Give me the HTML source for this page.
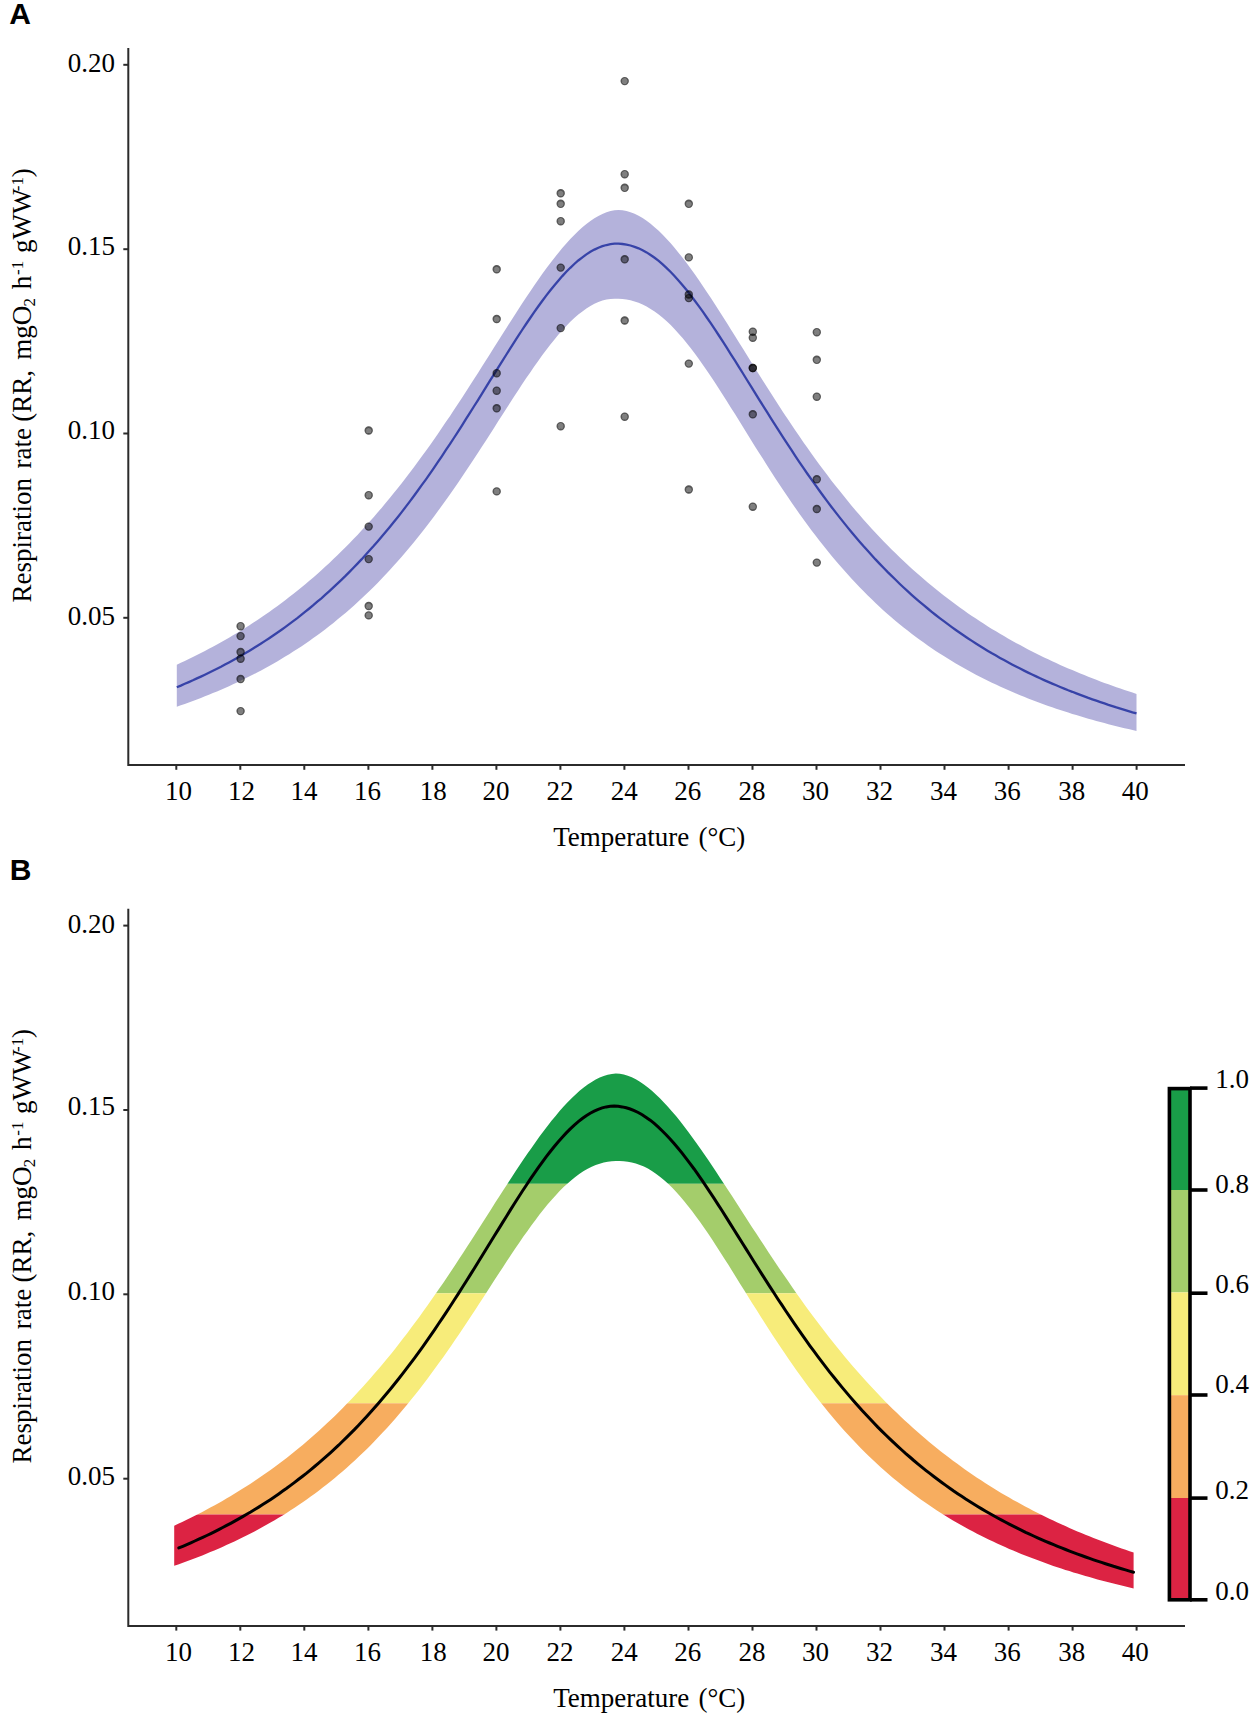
<!DOCTYPE html>
<html><head><meta charset="utf-8"><style>
html,body{margin:0;padding:0;background:#fff;width:1260px;height:1713px;overflow:hidden}
svg{display:block}
text{font-family:'Liberation Serif',serif;fill:#000}
.lbl{font-family:'Liberation Sans',sans-serif;font-weight:bold}
</style></head><body>
<svg width="1260" height="1713" viewBox="0 0 1260 1713">
<rect width="1260" height="1713" fill="#fff"/>
<text class="lbl" x="9.3" y="24.2" font-size="30">A</text>
<path d="M176.8,664.7 L180.8,662.8 L184.8,660.9 L188.8,659.0 L192.9,657.0 L196.9,655.0 L200.9,653.0 L204.9,650.9 L208.9,648.8 L212.9,646.7 L217.0,644.5 L221.0,642.3 L225.0,640.0 L229.0,637.7 L233.0,635.3 L237.0,632.9 L241.0,630.5 L245.1,628.0 L249.1,625.4 L253.1,622.8 L257.1,620.2 L261.1,617.5 L265.1,614.7 L269.2,611.9 L273.2,609.1 L277.2,606.2 L281.2,603.2 L285.2,600.2 L289.2,597.1 L293.2,594.0 L297.3,590.8 L301.3,587.5 L305.3,584.2 L309.3,580.8 L313.3,577.4 L317.3,573.9 L321.4,570.3 L325.4,566.6 L329.4,562.9 L333.4,559.1 L337.4,555.3 L341.4,551.3 L345.5,547.3 L349.5,543.2 L353.5,539.1 L357.5,534.9 L361.5,530.6 L365.5,526.2 L369.5,521.7 L373.6,517.2 L377.6,512.6 L381.6,507.9 L385.6,503.1 L389.6,498.2 L393.6,493.3 L397.7,488.3 L401.7,483.2 L405.7,478.0 L409.7,472.8 L413.7,467.4 L417.7,462.0 L421.7,456.5 L425.8,451.0 L429.8,445.4 L433.8,439.7 L437.8,433.9 L441.8,428.0 L445.8,422.1 L449.9,416.2 L453.9,410.1 L457.9,404.0 L461.9,397.9 L465.9,391.7 L469.9,385.5 L473.9,379.2 L478.0,372.9 L482.0,366.6 L486.0,360.2 L490.0,353.9 L494.0,347.5 L498.0,341.2 L502.1,334.8 L506.1,328.5 L510.1,322.2 L514.1,315.9 L518.1,309.7 L522.1,303.5 L526.1,297.5 L530.2,291.5 L534.2,285.5 L538.2,279.8 L542.2,274.1 L546.2,268.5 L550.2,263.2 L554.3,257.9 L558.3,252.9 L562.3,248.1 L566.3,243.4 L570.3,239.0 L574.3,234.9 L578.3,231.0 L582.4,227.3 L586.4,224.0 L590.4,220.9 L594.4,218.2 L598.4,215.9 L602.4,213.9 L606.5,212.2 L610.5,211.0 L614.5,210.2 L618.5,210.0 L622.5,210.3 L626.5,211.0 L630.5,212.2 L634.6,213.8 L638.6,215.8 L642.6,218.1 L646.6,220.8 L650.6,223.8 L654.6,227.2 L658.7,230.8 L662.7,234.7 L666.7,238.9 L670.7,243.3 L674.7,248.0 L678.7,252.9 L682.8,258.0 L686.8,263.3 L690.8,268.7 L694.8,274.3 L698.8,280.1 L702.8,285.9 L706.8,291.9 L710.9,298.0 L714.9,304.2 L718.9,310.4 L722.9,316.8 L726.9,323.1 L730.9,329.5 L735.0,335.9 L739.0,342.4 L743.0,348.8 L747.0,355.3 L751.0,361.7 L755.0,368.2 L759.0,374.6 L763.1,380.9 L767.1,387.3 L771.1,393.6 L775.1,399.8 L779.1,406.0 L783.1,412.2 L787.2,418.2 L791.2,424.3 L795.2,430.2 L799.2,436.1 L803.2,441.9 L807.2,447.6 L811.2,453.3 L815.3,458.9 L819.3,464.4 L823.3,469.8 L827.3,475.1 L831.3,480.4 L835.3,485.5 L839.4,490.6 L843.4,495.6 L847.4,500.6 L851.4,505.4 L855.4,510.2 L859.4,514.8 L863.4,519.4 L867.5,523.9 L871.5,528.4 L875.5,532.7 L879.5,537.0 L883.5,541.2 L887.5,545.3 L891.6,549.4 L895.6,553.3 L899.6,557.2 L903.6,561.0 L907.6,564.8 L911.6,568.5 L915.6,572.1 L919.7,575.6 L923.7,579.1 L927.7,582.5 L931.7,585.8 L935.7,589.1 L939.7,592.3 L943.8,595.5 L947.8,598.6 L951.8,601.6 L955.8,604.6 L959.8,607.5 L963.8,610.3 L967.8,613.2 L971.9,615.9 L975.9,618.6 L979.9,621.2 L983.9,623.8 L987.9,626.4 L991.9,628.9 L996.0,631.3 L1000.0,633.8 L1004.0,636.1 L1008.0,638.4 L1012.0,640.7 L1016.0,642.9 L1020.1,645.1 L1024.1,647.3 L1028.1,649.4 L1032.1,651.4 L1036.1,653.5 L1040.1,655.5 L1044.1,657.4 L1048.2,659.3 L1052.2,661.2 L1056.2,663.1 L1060.2,664.9 L1064.2,666.7 L1068.2,668.4 L1072.3,670.1 L1076.3,671.8 L1080.3,673.5 L1084.3,675.1 L1088.3,676.7 L1092.3,678.3 L1096.3,679.8 L1100.4,681.4 L1104.4,682.9 L1108.4,684.3 L1112.4,685.8 L1116.4,687.2 L1120.4,688.6 L1124.5,689.9 L1128.5,691.3 L1132.5,692.6 L1136.5,693.9 L1136.5,731.0 L1132.5,730.1 L1128.5,729.1 L1124.5,728.2 L1120.4,727.2 L1116.4,726.2 L1112.4,725.2 L1108.4,724.2 L1104.4,723.1 L1100.4,722.0 L1096.3,720.9 L1092.3,719.8 L1088.3,718.7 L1084.3,717.5 L1080.3,716.3 L1076.3,715.1 L1072.3,713.9 L1068.2,712.6 L1064.2,711.3 L1060.2,710.0 L1056.2,708.7 L1052.2,707.3 L1048.2,705.9 L1044.1,704.5 L1040.1,703.0 L1036.1,701.5 L1032.1,700.0 L1028.1,698.4 L1024.1,696.8 L1020.1,695.2 L1016.0,693.5 L1012.0,691.8 L1008.0,690.1 L1004.0,688.3 L1000.0,686.5 L996.0,684.6 L991.9,682.7 L987.9,680.8 L983.9,678.8 L979.9,676.7 L975.9,674.7 L971.9,672.5 L967.8,670.3 L963.8,668.1 L959.8,665.8 L955.8,663.5 L951.8,661.1 L947.8,658.6 L943.8,656.1 L939.7,653.5 L935.7,650.9 L931.7,648.2 L927.7,645.5 L923.7,642.6 L919.7,639.7 L915.6,636.8 L911.6,633.7 L907.6,630.6 L903.6,627.5 L899.6,624.2 L895.6,620.9 L891.6,617.4 L887.5,614.0 L883.5,610.4 L879.5,606.7 L875.5,602.9 L871.5,599.1 L867.5,595.2 L863.4,591.1 L859.4,587.0 L855.4,582.8 L851.4,578.5 L847.4,574.1 L843.4,569.6 L839.4,565.0 L835.3,560.3 L831.3,555.5 L827.3,550.6 L823.3,545.6 L819.3,540.5 L815.3,535.2 L811.2,529.9 L807.2,524.5 L803.2,519.0 L799.2,513.4 L795.2,507.7 L791.2,501.9 L787.2,496.0 L783.1,490.1 L779.1,484.0 L775.1,477.9 L771.1,471.7 L767.1,465.4 L763.1,459.1 L759.0,452.8 L755.0,446.4 L751.0,439.9 L747.0,433.5 L743.0,427.0 L739.0,420.5 L735.0,414.1 L730.9,407.7 L726.9,401.3 L722.9,395.0 L718.9,388.7 L714.9,382.5 L710.9,376.5 L706.8,370.5 L702.8,364.7 L698.8,359.0 L694.8,353.6 L690.8,348.3 L686.8,343.2 L682.8,338.3 L678.7,333.7 L674.7,329.3 L670.7,325.1 L666.7,321.3 L662.7,317.7 L658.7,314.5 L654.6,311.5 L650.6,308.9 L646.6,306.5 L642.6,304.5 L638.6,302.8 L634.6,301.4 L630.5,300.3 L626.5,299.5 L622.5,299.0 L618.5,298.7 L614.5,298.7 L610.5,298.9 L606.5,299.5 L602.4,300.6 L598.4,302.0 L594.4,303.8 L590.4,306.0 L586.4,308.5 L582.4,311.4 L578.3,314.5 L574.3,318.0 L570.3,321.8 L566.3,325.9 L562.3,330.3 L558.3,334.8 L554.3,339.7 L550.2,344.7 L546.2,349.9 L542.2,355.3 L538.2,360.9 L534.2,366.6 L530.2,372.4 L526.1,378.3 L522.1,384.3 L518.1,390.4 L514.1,396.6 L510.1,402.8 L506.1,409.1 L502.1,415.3 L498.0,421.6 L494.0,427.9 L490.0,434.2 L486.0,440.4 L482.0,446.6 L478.0,452.8 L473.9,459.0 L469.9,465.0 L465.9,471.1 L461.9,477.0 L457.9,482.9 L453.9,488.8 L449.9,494.5 L445.8,500.2 L441.8,505.8 L437.8,511.3 L433.8,516.7 L429.8,522.0 L425.8,527.3 L421.7,532.4 L417.7,537.4 L413.7,542.4 L409.7,547.3 L405.7,552.0 L401.7,556.7 L397.7,561.3 L393.6,565.8 L389.6,570.2 L385.6,574.5 L381.6,578.7 L377.6,582.9 L373.6,586.9 L369.5,590.9 L365.5,594.8 L361.5,598.6 L357.5,602.3 L353.5,605.9 L349.5,609.4 L345.5,612.9 L341.4,616.3 L337.4,619.6 L333.4,622.9 L329.4,626.1 L325.4,629.2 L321.4,632.2 L317.3,635.2 L313.3,638.1 L309.3,640.9 L305.3,643.7 L301.3,646.4 L297.3,649.0 L293.2,651.6 L289.2,654.2 L285.2,656.6 L281.2,659.1 L277.2,661.4 L273.2,663.8 L269.2,666.0 L265.1,668.2 L261.1,670.4 L257.1,672.5 L253.1,674.6 L249.1,676.6 L245.1,678.6 L241.0,680.6 L237.0,682.5 L233.0,684.3 L229.0,686.2 L225.0,688.0 L221.0,689.7 L217.0,691.4 L212.9,693.1 L208.9,694.7 L204.9,696.3 L200.9,697.9 L196.9,699.4 L192.9,701.0 L188.8,702.4 L184.8,703.9 L180.8,705.3 L176.8,706.7 Z" fill="#b4b2db"/>
<path d="M176.8,687.2 L180.8,685.6 L184.8,683.8 L188.8,682.1 L192.9,680.3 L196.9,678.4 L200.9,676.6 L204.9,674.7 L208.9,672.7 L212.9,670.7 L217.0,668.7 L221.0,666.7 L225.0,664.5 L229.0,662.4 L233.0,660.2 L237.0,658.0 L241.0,655.7 L245.1,653.3 L249.1,650.9 L253.1,648.5 L257.1,646.0 L261.1,643.5 L265.1,640.9 L269.2,638.2 L273.2,635.5 L277.2,632.8 L281.2,630.0 L285.2,627.1 L289.2,624.1 L293.2,621.1 L297.3,618.1 L301.3,614.9 L305.3,611.7 L309.3,608.5 L313.3,605.2 L317.3,601.7 L321.4,598.3 L325.4,594.7 L329.4,591.1 L333.4,587.4 L337.4,583.6 L341.4,579.8 L345.5,575.9 L349.5,571.9 L353.5,567.8 L357.5,563.6 L361.5,559.4 L365.5,555.0 L369.5,550.6 L373.6,546.1 L377.6,541.5 L381.6,536.8 L385.6,532.0 L389.6,527.2 L393.6,522.2 L397.7,517.2 L401.7,512.1 L405.7,506.9 L409.7,501.6 L413.7,496.2 L417.7,490.8 L421.7,485.2 L425.8,479.6 L429.8,473.9 L433.8,468.1 L437.8,462.2 L441.8,456.3 L445.8,450.2 L449.9,444.2 L453.9,438.0 L457.9,431.8 L461.9,425.6 L465.9,419.2 L469.9,412.9 L473.9,406.5 L478.0,400.1 L482.0,393.7 L486.0,387.2 L490.0,380.7 L494.0,374.3 L498.0,367.8 L502.1,361.4 L506.1,355.0 L510.1,348.7 L514.1,342.4 L518.1,336.2 L522.1,330.0 L526.1,324.0 L530.2,318.0 L534.2,312.2 L538.2,306.5 L542.2,301.0 L546.2,295.6 L550.2,290.5 L554.3,285.5 L558.3,280.7 L562.3,276.1 L566.3,271.8 L570.3,267.8 L574.3,264.0 L578.3,260.5 L582.4,257.3 L586.4,254.4 L590.4,251.8 L594.4,249.6 L598.4,247.7 L602.4,246.1 L606.5,245.0 L610.5,244.2 L614.5,243.7 L618.5,243.7 L622.5,244.0 L626.5,244.6 L630.5,245.5 L634.6,246.8 L638.6,248.3 L642.6,250.2 L646.6,252.4 L650.6,255.0 L654.6,257.8 L658.7,260.9 L662.7,264.4 L666.7,268.1 L670.7,272.0 L674.7,276.2 L678.7,280.7 L682.8,285.4 L686.8,290.3 L690.8,295.4 L694.8,300.7 L698.8,306.1 L702.8,311.7 L706.8,317.5 L710.9,323.4 L714.9,329.4 L718.9,335.5 L722.9,341.7 L726.9,347.9 L730.9,354.3 L735.0,360.7 L739.0,367.1 L743.0,373.5 L747.0,380.0 L751.0,386.4 L755.0,392.9 L759.0,399.4 L763.1,405.8 L767.1,412.2 L771.1,418.6 L775.1,424.9 L779.1,431.2 L783.1,437.4 L787.2,443.6 L791.2,449.7 L795.2,455.8 L799.2,461.8 L803.2,467.7 L807.2,473.5 L811.2,479.2 L815.3,484.9 L819.3,490.5 L823.3,496.0 L827.3,501.4 L831.3,506.7 L835.3,511.9 L839.4,517.1 L843.4,522.1 L847.4,527.1 L851.4,532.0 L855.4,536.8 L859.4,541.4 L863.4,546.1 L867.5,550.6 L871.5,555.0 L875.5,559.4 L879.5,563.6 L883.5,567.8 L887.5,571.9 L891.6,575.9 L895.6,579.8 L899.6,583.7 L903.6,587.5 L907.6,591.2 L911.6,594.8 L915.6,598.3 L919.7,601.8 L923.7,605.2 L927.7,608.5 L931.7,611.8 L935.7,615.0 L939.7,618.1 L943.8,621.2 L947.8,624.2 L951.8,627.1 L955.8,630.0 L959.8,632.8 L963.8,635.5 L967.8,638.2 L971.9,640.9 L975.9,643.5 L979.9,646.0 L983.9,648.5 L987.9,650.9 L991.9,653.3 L996.0,655.6 L1000.0,657.9 L1004.0,660.1 L1008.0,662.3 L1012.0,664.4 L1016.0,666.5 L1020.1,668.6 L1024.1,670.6 L1028.1,672.6 L1032.1,674.5 L1036.1,676.4 L1040.1,678.3 L1044.1,680.1 L1048.2,681.9 L1052.2,683.6 L1056.2,685.3 L1060.2,687.0 L1064.2,688.6 L1068.2,690.3 L1072.3,691.8 L1076.3,693.4 L1080.3,694.9 L1084.3,696.4 L1088.3,697.9 L1092.3,699.3 L1096.3,700.7 L1100.4,702.1 L1104.4,703.4 L1108.4,704.8 L1112.4,706.1 L1116.4,707.4 L1120.4,708.6 L1124.5,709.9 L1128.5,711.1 L1132.5,712.3 L1136.5,713.4" fill="none" stroke="#3743a8" stroke-width="2.3"/>
<circle cx="240.6" cy="626.2" r="2.7" fill="rgba(0,0,0,0.5)"/><circle cx="240.6" cy="626.2" r="3.4" fill="none" stroke="rgba(0,0,0,0.66)" stroke-width="1.6"/>
<circle cx="240.6" cy="636.1" r="2.7" fill="rgba(0,0,0,0.5)"/><circle cx="240.6" cy="636.1" r="3.4" fill="none" stroke="rgba(0,0,0,0.66)" stroke-width="1.6"/>
<circle cx="240.6" cy="652.0" r="2.7" fill="rgba(0,0,0,0.5)"/><circle cx="240.6" cy="652.0" r="3.4" fill="none" stroke="rgba(0,0,0,0.66)" stroke-width="1.6"/>
<circle cx="240.6" cy="658.7" r="2.7" fill="rgba(0,0,0,0.5)"/><circle cx="240.6" cy="658.7" r="3.4" fill="none" stroke="rgba(0,0,0,0.66)" stroke-width="1.6"/>
<circle cx="240.6" cy="679.0" r="2.7" fill="rgba(0,0,0,0.5)"/><circle cx="240.6" cy="679.0" r="3.4" fill="none" stroke="rgba(0,0,0,0.66)" stroke-width="1.6"/>
<circle cx="240.6" cy="711.1" r="2.7" fill="rgba(0,0,0,0.5)"/><circle cx="240.6" cy="711.1" r="3.4" fill="none" stroke="rgba(0,0,0,0.66)" stroke-width="1.6"/>
<circle cx="368.7" cy="430.5" r="2.7" fill="rgba(0,0,0,0.5)"/><circle cx="368.7" cy="430.5" r="3.4" fill="none" stroke="rgba(0,0,0,0.66)" stroke-width="1.6"/>
<circle cx="368.7" cy="495.2" r="2.7" fill="rgba(0,0,0,0.5)"/><circle cx="368.7" cy="495.2" r="3.4" fill="none" stroke="rgba(0,0,0,0.66)" stroke-width="1.6"/>
<circle cx="368.7" cy="526.6" r="2.7" fill="rgba(0,0,0,0.5)"/><circle cx="368.7" cy="526.6" r="3.4" fill="none" stroke="rgba(0,0,0,0.66)" stroke-width="1.6"/>
<circle cx="368.7" cy="559.1" r="2.7" fill="rgba(0,0,0,0.5)"/><circle cx="368.7" cy="559.1" r="3.4" fill="none" stroke="rgba(0,0,0,0.66)" stroke-width="1.6"/>
<circle cx="368.7" cy="606.0" r="2.7" fill="rgba(0,0,0,0.5)"/><circle cx="368.7" cy="606.0" r="3.4" fill="none" stroke="rgba(0,0,0,0.66)" stroke-width="1.6"/>
<circle cx="368.7" cy="615.4" r="2.7" fill="rgba(0,0,0,0.5)"/><circle cx="368.7" cy="615.4" r="3.4" fill="none" stroke="rgba(0,0,0,0.66)" stroke-width="1.6"/>
<circle cx="496.7" cy="269.3" r="2.7" fill="rgba(0,0,0,0.5)"/><circle cx="496.7" cy="269.3" r="3.4" fill="none" stroke="rgba(0,0,0,0.66)" stroke-width="1.6"/>
<circle cx="496.7" cy="319.0" r="2.7" fill="rgba(0,0,0,0.5)"/><circle cx="496.7" cy="319.0" r="3.4" fill="none" stroke="rgba(0,0,0,0.66)" stroke-width="1.6"/>
<circle cx="496.7" cy="373.2" r="2.7" fill="rgba(0,0,0,0.5)"/><circle cx="496.7" cy="373.2" r="3.4" fill="none" stroke="rgba(0,0,0,0.66)" stroke-width="1.6"/>
<circle cx="496.7" cy="390.7" r="2.7" fill="rgba(0,0,0,0.5)"/><circle cx="496.7" cy="390.7" r="3.4" fill="none" stroke="rgba(0,0,0,0.66)" stroke-width="1.6"/>
<circle cx="496.7" cy="408.3" r="2.7" fill="rgba(0,0,0,0.5)"/><circle cx="496.7" cy="408.3" r="3.4" fill="none" stroke="rgba(0,0,0,0.66)" stroke-width="1.6"/>
<circle cx="496.7" cy="491.4" r="2.7" fill="rgba(0,0,0,0.5)"/><circle cx="496.7" cy="491.4" r="3.4" fill="none" stroke="rgba(0,0,0,0.66)" stroke-width="1.6"/>
<circle cx="560.7" cy="193.3" r="2.7" fill="rgba(0,0,0,0.5)"/><circle cx="560.7" cy="193.3" r="3.4" fill="none" stroke="rgba(0,0,0,0.66)" stroke-width="1.6"/>
<circle cx="560.7" cy="203.8" r="2.7" fill="rgba(0,0,0,0.5)"/><circle cx="560.7" cy="203.8" r="3.4" fill="none" stroke="rgba(0,0,0,0.66)" stroke-width="1.6"/>
<circle cx="560.7" cy="221.2" r="2.7" fill="rgba(0,0,0,0.5)"/><circle cx="560.7" cy="221.2" r="3.4" fill="none" stroke="rgba(0,0,0,0.66)" stroke-width="1.6"/>
<circle cx="560.7" cy="267.6" r="2.7" fill="rgba(0,0,0,0.5)"/><circle cx="560.7" cy="267.6" r="3.4" fill="none" stroke="rgba(0,0,0,0.66)" stroke-width="1.6"/>
<circle cx="560.7" cy="328.1" r="2.7" fill="rgba(0,0,0,0.5)"/><circle cx="560.7" cy="328.1" r="3.4" fill="none" stroke="rgba(0,0,0,0.66)" stroke-width="1.6"/>
<circle cx="560.7" cy="426.2" r="2.7" fill="rgba(0,0,0,0.5)"/><circle cx="560.7" cy="426.2" r="3.4" fill="none" stroke="rgba(0,0,0,0.66)" stroke-width="1.6"/>
<circle cx="624.7" cy="81.1" r="2.7" fill="rgba(0,0,0,0.5)"/><circle cx="624.7" cy="81.1" r="3.4" fill="none" stroke="rgba(0,0,0,0.66)" stroke-width="1.6"/>
<circle cx="624.7" cy="174.2" r="2.7" fill="rgba(0,0,0,0.5)"/><circle cx="624.7" cy="174.2" r="3.4" fill="none" stroke="rgba(0,0,0,0.66)" stroke-width="1.6"/>
<circle cx="624.7" cy="187.8" r="2.7" fill="rgba(0,0,0,0.5)"/><circle cx="624.7" cy="187.8" r="3.4" fill="none" stroke="rgba(0,0,0,0.66)" stroke-width="1.6"/>
<circle cx="624.7" cy="259.3" r="2.7" fill="rgba(0,0,0,0.5)"/><circle cx="624.7" cy="259.3" r="3.4" fill="none" stroke="rgba(0,0,0,0.66)" stroke-width="1.6"/>
<circle cx="624.7" cy="320.5" r="2.7" fill="rgba(0,0,0,0.5)"/><circle cx="624.7" cy="320.5" r="3.4" fill="none" stroke="rgba(0,0,0,0.66)" stroke-width="1.6"/>
<circle cx="624.7" cy="416.7" r="2.7" fill="rgba(0,0,0,0.5)"/><circle cx="624.7" cy="416.7" r="3.4" fill="none" stroke="rgba(0,0,0,0.66)" stroke-width="1.6"/>
<circle cx="688.8" cy="203.8" r="2.7" fill="rgba(0,0,0,0.5)"/><circle cx="688.8" cy="203.8" r="3.4" fill="none" stroke="rgba(0,0,0,0.66)" stroke-width="1.6"/>
<circle cx="688.8" cy="257.4" r="2.7" fill="rgba(0,0,0,0.5)"/><circle cx="688.8" cy="257.4" r="3.4" fill="none" stroke="rgba(0,0,0,0.66)" stroke-width="1.6"/>
<circle cx="688.8" cy="294.5" r="2.7" fill="rgba(0,0,0,0.5)"/><circle cx="688.8" cy="294.5" r="3.4" fill="none" stroke="rgba(0,0,0,0.66)" stroke-width="1.6"/>
<circle cx="688.8" cy="298.1" r="2.7" fill="rgba(0,0,0,0.5)"/><circle cx="688.8" cy="298.1" r="3.4" fill="none" stroke="rgba(0,0,0,0.66)" stroke-width="1.6"/>
<circle cx="688.8" cy="363.6" r="2.7" fill="rgba(0,0,0,0.5)"/><circle cx="688.8" cy="363.6" r="3.4" fill="none" stroke="rgba(0,0,0,0.66)" stroke-width="1.6"/>
<circle cx="688.8" cy="489.5" r="2.7" fill="rgba(0,0,0,0.5)"/><circle cx="688.8" cy="489.5" r="3.4" fill="none" stroke="rgba(0,0,0,0.66)" stroke-width="1.6"/>
<circle cx="752.8" cy="331.7" r="2.7" fill="rgba(0,0,0,0.5)"/><circle cx="752.8" cy="331.7" r="3.4" fill="none" stroke="rgba(0,0,0,0.66)" stroke-width="1.6"/>
<circle cx="752.8" cy="337.7" r="2.7" fill="rgba(0,0,0,0.5)"/><circle cx="752.8" cy="337.7" r="3.4" fill="none" stroke="rgba(0,0,0,0.66)" stroke-width="1.6"/>
<circle cx="752.8" cy="368.0" r="2.7" fill="rgba(0,0,0,0.5)"/><circle cx="752.8" cy="368.0" r="3.4" fill="none" stroke="rgba(0,0,0,0.66)" stroke-width="1.6"/>
<circle cx="752.8" cy="368.0" r="2.7" fill="rgba(0,0,0,0.5)"/><circle cx="752.8" cy="368.0" r="3.4" fill="none" stroke="rgba(0,0,0,0.66)" stroke-width="1.6"/>
<circle cx="752.8" cy="414.3" r="2.7" fill="rgba(0,0,0,0.5)"/><circle cx="752.8" cy="414.3" r="3.4" fill="none" stroke="rgba(0,0,0,0.66)" stroke-width="1.6"/>
<circle cx="752.8" cy="506.7" r="2.7" fill="rgba(0,0,0,0.5)"/><circle cx="752.8" cy="506.7" r="3.4" fill="none" stroke="rgba(0,0,0,0.66)" stroke-width="1.6"/>
<circle cx="816.8" cy="332.2" r="2.7" fill="rgba(0,0,0,0.5)"/><circle cx="816.8" cy="332.2" r="3.4" fill="none" stroke="rgba(0,0,0,0.66)" stroke-width="1.6"/>
<circle cx="816.8" cy="359.8" r="2.7" fill="rgba(0,0,0,0.5)"/><circle cx="816.8" cy="359.8" r="3.4" fill="none" stroke="rgba(0,0,0,0.66)" stroke-width="1.6"/>
<circle cx="816.8" cy="396.7" r="2.7" fill="rgba(0,0,0,0.5)"/><circle cx="816.8" cy="396.7" r="3.4" fill="none" stroke="rgba(0,0,0,0.66)" stroke-width="1.6"/>
<circle cx="816.8" cy="479.3" r="2.7" fill="rgba(0,0,0,0.5)"/><circle cx="816.8" cy="479.3" r="3.4" fill="none" stroke="rgba(0,0,0,0.66)" stroke-width="1.6"/>
<circle cx="816.8" cy="509.0" r="2.7" fill="rgba(0,0,0,0.5)"/><circle cx="816.8" cy="509.0" r="3.4" fill="none" stroke="rgba(0,0,0,0.66)" stroke-width="1.6"/>
<circle cx="816.8" cy="562.6" r="2.7" fill="rgba(0,0,0,0.5)"/><circle cx="816.8" cy="562.6" r="3.4" fill="none" stroke="rgba(0,0,0,0.66)" stroke-width="1.6"/>
<path d="M128.3,48.0 V765.1 H1185" fill="none" stroke="#2b2b2b" stroke-width="2"/>
<line x1="123.3" y1="64.8" x2="128.3" y2="64.8" stroke="#2b2b2b" stroke-width="2"/>
<line x1="123.3" y1="249.2" x2="128.3" y2="249.2" stroke="#2b2b2b" stroke-width="2"/>
<line x1="123.3" y1="433.5" x2="128.3" y2="433.5" stroke="#2b2b2b" stroke-width="2"/>
<line x1="123.3" y1="617.8" x2="128.3" y2="617.8" stroke="#2b2b2b" stroke-width="2"/>
<line x1="176.3" y1="765.1" x2="176.3" y2="769.8" stroke="#2b2b2b" stroke-width="2"/>
<line x1="240.3" y1="765.1" x2="240.3" y2="769.8" stroke="#2b2b2b" stroke-width="2"/>
<line x1="304.3" y1="765.1" x2="304.3" y2="769.8" stroke="#2b2b2b" stroke-width="2"/>
<line x1="368.4" y1="765.1" x2="368.4" y2="769.8" stroke="#2b2b2b" stroke-width="2"/>
<line x1="432.4" y1="765.1" x2="432.4" y2="769.8" stroke="#2b2b2b" stroke-width="2"/>
<line x1="496.4" y1="765.1" x2="496.4" y2="769.8" stroke="#2b2b2b" stroke-width="2"/>
<line x1="560.4" y1="765.1" x2="560.4" y2="769.8" stroke="#2b2b2b" stroke-width="2"/>
<line x1="624.4" y1="765.1" x2="624.4" y2="769.8" stroke="#2b2b2b" stroke-width="2"/>
<line x1="688.5" y1="765.1" x2="688.5" y2="769.8" stroke="#2b2b2b" stroke-width="2"/>
<line x1="752.5" y1="765.1" x2="752.5" y2="769.8" stroke="#2b2b2b" stroke-width="2"/>
<line x1="816.5" y1="765.1" x2="816.5" y2="769.8" stroke="#2b2b2b" stroke-width="2"/>
<line x1="880.5" y1="765.1" x2="880.5" y2="769.8" stroke="#2b2b2b" stroke-width="2"/>
<line x1="944.5" y1="765.1" x2="944.5" y2="769.8" stroke="#2b2b2b" stroke-width="2"/>
<line x1="1008.6" y1="765.1" x2="1008.6" y2="769.8" stroke="#2b2b2b" stroke-width="2"/>
<line x1="1072.6" y1="765.1" x2="1072.6" y2="769.8" stroke="#2b2b2b" stroke-width="2"/>
<line x1="1136.6" y1="765.1" x2="1136.6" y2="769.8" stroke="#2b2b2b" stroke-width="2"/>
<text x="115" y="72.2" font-size="27" text-anchor="end">0.20</text>
<text x="115" y="254.9" font-size="27" text-anchor="end">0.15</text>
<text x="115" y="439.2" font-size="27" text-anchor="end">0.10</text>
<text x="115" y="624.9" font-size="27" text-anchor="end">0.05</text>
<text x="178.4" y="800.3" font-size="27" text-anchor="middle">10</text>
<text x="241.4" y="800.3" font-size="27" text-anchor="middle">12</text>
<text x="304.1" y="800.3" font-size="27" text-anchor="middle">14</text>
<text x="367.4" y="800.3" font-size="27" text-anchor="middle">16</text>
<text x="433.2" y="800.3" font-size="27" text-anchor="middle">18</text>
<text x="496.1" y="800.3" font-size="27" text-anchor="middle">20</text>
<text x="560.1" y="800.3" font-size="27" text-anchor="middle">22</text>
<text x="624.3" y="800.3" font-size="27" text-anchor="middle">24</text>
<text x="687.8" y="800.3" font-size="27" text-anchor="middle">26</text>
<text x="752.1" y="800.3" font-size="27" text-anchor="middle">28</text>
<text x="815.6" y="800.3" font-size="27" text-anchor="middle">30</text>
<text x="879.6" y="800.3" font-size="27" text-anchor="middle">32</text>
<text x="943.5" y="800.3" font-size="27" text-anchor="middle">34</text>
<text x="1007.2" y="800.3" font-size="27" text-anchor="middle">36</text>
<text x="1071.7" y="800.3" font-size="27" text-anchor="middle">38</text>
<text x="1135.3" y="800.3" font-size="27" text-anchor="middle">40</text>
<text x="553.2" y="846.4" font-size="27">Temperature</text>
<text x="698.5" y="846.4" font-size="27">(°C)</text>
<text transform="translate(30.6,602.6) rotate(-90)" font-size="27">Respiration</text>
<text transform="translate(30.6,468.4) rotate(-90)" font-size="27">rate</text>
<text transform="translate(30.6,421.7) rotate(-90)" font-size="27">(RR,</text>
<text transform="translate(30.6,359.7) rotate(-90)" font-size="27">mgO</text>
<text transform="translate(35.4,306.4) rotate(-90)" font-size="17">2</text>
<text transform="translate(30.6,289.2) rotate(-90)" font-size="27">h</text>
<text transform="translate(22.8,274.9) rotate(-90)" font-size="17">-1</text>
<text transform="translate(30.6,253.1) rotate(-90)" font-size="27">gWW</text>
<text transform="translate(22.8,191.2) rotate(-90)" font-size="17">-1</text>
<text transform="translate(30.6,177.2) rotate(-90)" font-size="27">)</text>
<text class="lbl" x="9.8" y="880.4" font-size="30">B</text>
<defs><clipPath id="bandB"><path d="M174.2,1525.7 L178.2,1523.8 L182.2,1521.9 L186.2,1520.0 L190.3,1518.0 L194.3,1516.0 L198.3,1514.0 L202.3,1511.9 L206.3,1509.8 L210.3,1507.6 L214.3,1505.4 L218.4,1503.2 L222.4,1500.9 L226.4,1498.6 L230.4,1496.2 L234.4,1493.8 L238.4,1491.3 L242.4,1488.8 L246.5,1486.3 L250.5,1483.7 L254.5,1481.0 L258.5,1478.3 L262.5,1475.6 L266.5,1472.7 L270.5,1469.9 L274.6,1467.0 L278.6,1464.0 L282.6,1461.0 L286.6,1457.9 L290.6,1454.7 L294.6,1451.5 L298.6,1448.2 L302.7,1444.9 L306.7,1441.5 L310.7,1438.1 L314.7,1434.5 L318.7,1430.9 L322.7,1427.3 L326.7,1423.5 L330.8,1419.7 L334.8,1415.9 L338.8,1411.9 L342.8,1407.9 L346.8,1403.8 L350.8,1399.7 L354.8,1395.4 L358.9,1391.1 L362.9,1386.7 L366.9,1382.3 L370.9,1377.7 L374.9,1373.1 L378.9,1368.4 L382.9,1363.7 L387.0,1358.8 L391.0,1353.9 L395.0,1348.9 L399.0,1343.8 L403.0,1338.6 L407.0,1333.4 L411.0,1328.0 L415.1,1322.6 L419.1,1317.2 L423.1,1311.6 L427.1,1306.0 L431.1,1300.3 L435.1,1294.6 L439.1,1288.8 L443.2,1282.9 L447.2,1276.9 L451.2,1271.0 L455.2,1264.9 L459.2,1258.8 L463.2,1252.7 L467.2,1246.5 L471.3,1240.3 L475.3,1234.0 L479.3,1227.8 L483.3,1221.5 L487.3,1215.2 L491.3,1208.9 L495.3,1202.6 L499.4,1196.3 L503.4,1190.1 L507.4,1183.9 L511.4,1177.7 L515.4,1171.6 L519.4,1165.5 L523.4,1159.5 L527.5,1153.6 L531.5,1147.9 L535.5,1142.2 L539.5,1136.6 L543.5,1131.2 L547.5,1125.9 L551.5,1120.8 L555.6,1115.9 L559.6,1111.1 L563.6,1106.6 L567.6,1102.3 L571.6,1098.2 L575.6,1094.4 L579.6,1090.8 L583.7,1087.6 L587.7,1084.6 L591.7,1081.9 L595.7,1079.6 L599.7,1077.6 L603.7,1076.0 L607.7,1074.7 L611.8,1073.9 L615.8,1073.5 L619.8,1073.7 L623.8,1074.5 L627.8,1075.7 L631.8,1077.3 L635.8,1079.3 L639.9,1081.7 L643.9,1084.4 L647.9,1087.5 L651.9,1090.8 L655.9,1094.4 L659.9,1098.3 L663.9,1102.4 L667.9,1106.8 L672.0,1111.4 L676.0,1116.1 L680.0,1121.1 L684.0,1126.2 L688.0,1131.5 L692.0,1136.9 L696.0,1142.5 L700.1,1148.2 L704.1,1154.0 L708.1,1159.8 L712.1,1165.8 L716.1,1171.8 L720.1,1177.9 L724.1,1184.0 L728.2,1190.2 L732.2,1196.3 L736.2,1202.5 L740.2,1208.7 L744.2,1215.0 L748.2,1221.2 L752.2,1227.4 L756.3,1233.5 L760.3,1239.7 L764.3,1245.8 L768.3,1251.9 L772.3,1257.9 L776.3,1263.9 L780.3,1269.9 L784.4,1275.8 L788.4,1281.6 L792.4,1287.4 L796.4,1293.2 L800.4,1298.8 L804.4,1304.4 L808.4,1309.9 L812.5,1315.4 L816.5,1320.8 L820.5,1326.1 L824.5,1331.3 L828.5,1336.5 L832.5,1341.6 L836.5,1346.6 L840.6,1351.5 L844.6,1356.4 L848.6,1361.2 L852.6,1365.9 L856.6,1370.5 L860.6,1375.1 L864.6,1379.6 L868.7,1384.0 L872.7,1388.3 L876.7,1392.6 L880.7,1396.8 L884.7,1400.9 L888.7,1405.0 L892.7,1408.9 L896.8,1412.8 L900.8,1416.7 L904.8,1420.4 L908.8,1424.1 L912.8,1427.8 L916.8,1431.3 L920.8,1434.8 L924.9,1438.3 L928.9,1441.7 L932.9,1445.0 L936.9,1448.2 L940.9,1451.4 L944.9,1454.6 L948.9,1457.6 L953.0,1460.7 L957.0,1463.6 L961.0,1466.5 L965.0,1469.4 L969.0,1472.2 L973.0,1474.9 L977.0,1477.7 L981.1,1480.3 L985.1,1482.9 L989.1,1485.5 L993.1,1488.0 L997.1,1490.4 L1001.1,1492.9 L1005.1,1495.2 L1009.2,1497.6 L1013.2,1499.9 L1017.2,1502.1 L1021.2,1504.3 L1025.2,1506.5 L1029.2,1508.6 L1033.2,1510.7 L1037.3,1512.8 L1041.3,1514.8 L1045.3,1516.7 L1049.3,1518.7 L1053.3,1520.6 L1057.3,1522.5 L1061.3,1524.3 L1065.4,1526.1 L1069.4,1527.9 L1073.4,1529.7 L1077.4,1531.4 L1081.4,1533.1 L1085.4,1534.7 L1089.4,1536.3 L1093.5,1537.9 L1097.5,1539.5 L1101.5,1541.1 L1105.5,1542.6 L1109.5,1544.1 L1113.5,1545.5 L1117.5,1547.0 L1121.6,1548.4 L1125.6,1549.8 L1129.6,1551.2 L1133.6,1552.5 L1133.6,1588.5 L1129.6,1587.5 L1125.6,1586.6 L1121.6,1585.6 L1117.5,1584.6 L1113.5,1583.6 L1109.5,1582.6 L1105.5,1581.5 L1101.5,1580.5 L1097.5,1579.4 L1093.5,1578.3 L1089.4,1577.1 L1085.4,1576.0 L1081.4,1574.8 L1077.4,1573.6 L1073.4,1572.4 L1069.4,1571.1 L1065.4,1569.9 L1061.3,1568.6 L1057.3,1567.2 L1053.3,1565.9 L1049.3,1564.5 L1045.3,1563.1 L1041.3,1561.6 L1037.3,1560.1 L1033.2,1558.6 L1029.2,1557.1 L1025.2,1555.5 L1021.2,1553.9 L1017.2,1552.3 L1013.2,1550.6 L1009.2,1548.9 L1005.1,1547.1 L1001.1,1545.3 L997.1,1543.5 L993.1,1541.6 L989.1,1539.7 L985.1,1537.8 L981.1,1535.8 L977.0,1533.7 L973.0,1531.6 L969.0,1529.5 L965.0,1527.3 L961.0,1525.0 L957.0,1522.7 L953.0,1520.4 L948.9,1518.0 L944.9,1515.5 L940.9,1513.0 L936.9,1510.4 L932.9,1507.8 L928.9,1505.1 L924.9,1502.3 L920.8,1499.5 L916.8,1496.6 L912.8,1493.6 L908.8,1490.6 L904.8,1487.5 L900.8,1484.3 L896.8,1481.0 L892.7,1477.7 L888.7,1474.3 L884.7,1470.8 L880.7,1467.2 L876.7,1463.5 L872.7,1459.7 L868.7,1455.9 L864.6,1452.0 L860.6,1447.9 L856.6,1443.8 L852.6,1439.6 L848.6,1435.3 L844.6,1430.9 L840.6,1426.4 L836.5,1421.8 L832.5,1417.1 L828.5,1412.3 L824.5,1407.3 L820.5,1402.3 L816.5,1397.2 L812.5,1392.0 L808.4,1386.7 L804.4,1381.3 L800.4,1375.8 L796.4,1370.2 L792.4,1364.5 L788.4,1358.7 L784.4,1352.8 L780.3,1346.8 L776.3,1340.8 L772.3,1334.7 L768.3,1328.5 L764.3,1322.2 L760.3,1315.9 L756.3,1309.6 L752.2,1303.2 L748.2,1296.7 L744.2,1290.3 L740.2,1283.9 L736.2,1277.4 L732.2,1271.0 L728.2,1264.6 L724.1,1258.3 L720.1,1252.0 L716.1,1245.8 L712.1,1239.6 L708.1,1233.6 L704.1,1227.8 L700.1,1222.0 L696.0,1216.5 L692.0,1211.1 L688.0,1205.9 L684.0,1201.0 L680.0,1196.2 L676.0,1191.8 L672.0,1187.6 L667.9,1183.6 L663.9,1180.0 L659.9,1176.7 L655.9,1173.7 L651.9,1171.0 L647.9,1168.6 L643.9,1166.6 L639.9,1164.9 L635.8,1163.5 L631.8,1162.4 L627.8,1161.7 L623.8,1161.2 L619.8,1161.0 L615.8,1161.0 L611.8,1161.3 L607.7,1161.8 L603.7,1162.6 L599.7,1163.7 L595.7,1165.1 L591.7,1166.8 L587.7,1168.8 L583.7,1171.1 L579.6,1173.8 L575.6,1176.7 L571.6,1179.9 L567.6,1183.4 L563.6,1187.1 L559.6,1191.1 L555.6,1195.4 L551.5,1199.9 L547.5,1204.6 L543.5,1209.5 L539.5,1214.6 L535.5,1219.9 L531.5,1225.3 L527.5,1230.9 L523.4,1236.6 L519.4,1242.4 L515.4,1248.3 L511.4,1254.3 L507.4,1260.3 L503.4,1266.4 L499.4,1272.6 L495.3,1278.8 L491.3,1285.0 L487.3,1291.2 L483.3,1297.4 L479.3,1303.5 L475.3,1309.7 L471.3,1315.8 L467.2,1321.9 L463.2,1327.9 L459.2,1333.9 L455.2,1339.8 L451.2,1345.7 L447.2,1351.4 L443.2,1357.2 L439.1,1362.8 L435.1,1368.3 L431.1,1373.8 L427.1,1379.2 L423.1,1384.5 L419.1,1389.7 L415.1,1394.8 L411.0,1399.8 L407.0,1404.7 L403.0,1409.5 L399.0,1414.3 L395.0,1418.9 L391.0,1423.5 L387.0,1427.9 L382.9,1432.3 L378.9,1436.6 L374.9,1440.8 L370.9,1444.9 L366.9,1448.9 L362.9,1452.8 L358.9,1456.6 L354.8,1460.4 L350.8,1464.1 L346.8,1467.7 L342.8,1471.2 L338.8,1474.6 L334.8,1478.0 L330.8,1481.3 L326.7,1484.5 L322.7,1487.6 L318.7,1490.7 L314.7,1493.7 L310.7,1496.6 L306.7,1499.5 L302.7,1502.3 L298.6,1505.0 L294.6,1507.7 L290.6,1510.3 L286.6,1512.9 L282.6,1515.4 L278.6,1517.8 L274.6,1520.2 L270.5,1522.5 L266.5,1524.8 L262.5,1527.1 L258.5,1529.3 L254.5,1531.4 L250.5,1533.5 L246.5,1535.5 L242.4,1537.5 L238.4,1539.5 L234.4,1541.4 L230.4,1543.3 L226.4,1545.1 L222.4,1546.9 L218.4,1548.7 L214.3,1550.4 L210.3,1552.1 L206.3,1553.7 L202.3,1555.4 L198.3,1556.9 L194.3,1558.5 L190.3,1560.0 L186.2,1561.5 L182.2,1562.9 L178.2,1564.4 L174.2,1565.8 Z"/></clipPath></defs>
<g clip-path="url(#bandB)">
<rect x="170" y="1000" width="970" height="183.8" fill="#199d48"/>
<rect x="170" y="1183.8" width="970" height="109.5" fill="#a4cd6b"/>
<rect x="170" y="1293.3" width="970" height="110.0" fill="#f7ec7a"/>
<rect x="170" y="1403.3" width="970" height="111.2" fill="#f7ad5f"/>
<rect x="170" y="1514.5" width="970" height="135.5" fill="#dc2343"/>
</g>
<path d="M178.8,1547.9 L182.8,1546.3 L186.8,1544.6 L190.8,1542.8 L194.8,1541.0 L198.8,1539.2 L202.8,1537.4 L206.8,1535.5 L210.8,1533.6 L214.8,1531.6 L218.7,1529.6 L222.7,1527.5 L226.7,1525.4 L230.7,1523.3 L234.7,1521.1 L238.7,1518.9 L242.7,1516.6 L246.7,1514.3 L250.7,1512.0 L254.7,1509.5 L258.7,1507.1 L262.7,1504.6 L266.7,1502.0 L270.7,1499.4 L274.7,1496.7 L278.7,1493.9 L282.7,1491.1 L286.7,1488.3 L290.6,1485.4 L294.6,1482.4 L298.6,1479.3 L302.6,1476.2 L306.6,1473.1 L310.6,1469.8 L314.6,1466.5 L318.6,1463.1 L322.6,1459.7 L326.6,1456.2 L330.6,1452.6 L334.6,1448.9 L338.6,1445.2 L342.6,1441.3 L346.6,1437.4 L350.6,1433.4 L354.6,1429.4 L358.6,1425.2 L362.5,1421.0 L366.5,1416.7 L370.5,1412.3 L374.5,1407.8 L378.5,1403.2 L382.5,1398.6 L386.5,1393.8 L390.5,1389.0 L394.5,1384.0 L398.5,1379.0 L402.5,1373.9 L406.5,1368.7 L410.5,1363.4 L414.5,1358.1 L418.5,1352.6 L422.5,1347.1 L426.5,1341.4 L430.5,1335.7 L434.5,1329.9 L438.4,1324.0 L442.4,1318.1 L446.4,1312.1 L450.4,1306.0 L454.4,1299.8 L458.4,1293.6 L462.4,1287.3 L466.4,1281.0 L470.4,1274.6 L474.4,1268.2 L478.4,1261.8 L482.4,1255.3 L486.4,1248.8 L490.4,1242.3 L494.4,1235.8 L498.4,1229.4 L502.4,1222.9 L506.4,1216.5 L510.3,1210.1 L514.3,1203.7 L518.3,1197.5 L522.3,1191.3 L526.3,1185.2 L530.3,1179.2 L534.3,1173.4 L538.3,1167.7 L542.3,1162.1 L546.3,1156.7 L550.3,1151.5 L554.3,1146.5 L558.3,1141.7 L562.3,1137.2 L566.3,1132.9 L570.3,1128.9 L574.3,1125.1 L578.3,1121.7 L582.3,1118.5 L586.2,1115.7 L590.2,1113.2 L594.2,1111.1 L598.2,1109.3 L602.2,1107.9 L606.2,1106.9 L610.2,1106.3 L614.2,1106.1 L618.2,1106.3 L622.2,1106.9 L626.2,1107.8 L630.2,1109.0 L634.2,1110.6 L638.2,1112.5 L642.2,1114.8 L646.2,1117.4 L650.2,1120.2 L654.2,1123.4 L658.1,1126.9 L662.1,1130.7 L666.1,1134.7 L670.1,1138.9 L674.1,1143.5 L678.1,1148.2 L682.1,1153.1 L686.1,1158.3 L690.1,1163.6 L694.1,1169.0 L698.1,1174.7 L702.1,1180.4 L706.1,1186.3 L710.1,1192.3 L714.1,1198.4 L718.1,1204.6 L722.1,1210.8 L726.1,1217.1 L730.0,1223.4 L734.0,1229.8 L738.0,1236.1 L742.0,1242.5 L746.0,1248.9 L750.0,1255.3 L754.0,1261.7 L758.0,1268.0 L762.0,1274.4 L766.0,1280.6 L770.0,1286.9 L774.0,1293.0 L778.0,1299.2 L782.0,1305.2 L786.0,1311.3 L790.0,1317.2 L794.0,1323.1 L798.0,1328.8 L802.0,1334.6 L805.9,1340.2 L809.9,1345.8 L813.9,1351.2 L817.9,1356.6 L821.9,1361.9 L825.9,1367.1 L829.9,1372.3 L833.9,1377.3 L837.9,1382.3 L841.9,1387.1 L845.9,1391.9 L849.9,1396.6 L853.9,1401.2 L857.9,1405.7 L861.9,1410.2 L865.9,1414.5 L869.9,1418.8 L873.9,1423.0 L877.8,1427.1 L881.8,1431.1 L885.8,1435.0 L889.8,1438.9 L893.8,1442.7 L897.8,1446.4 L901.8,1450.0 L905.8,1453.6 L909.8,1457.0 L913.8,1460.5 L917.8,1463.8 L921.8,1467.1 L925.8,1470.3 L929.8,1473.4 L933.8,1476.5 L937.8,1479.5 L941.8,1482.5 L945.8,1485.4 L949.8,1488.2 L953.7,1491.0 L957.7,1493.7 L961.7,1496.3 L965.7,1499.0 L969.7,1501.5 L973.7,1504.0 L977.7,1506.5 L981.7,1508.9 L985.7,1511.2 L989.7,1513.5 L993.7,1515.8 L997.7,1518.0 L1001.7,1520.1 L1005.7,1522.3 L1009.7,1524.4 L1013.7,1526.4 L1017.7,1528.4 L1021.7,1530.3 L1025.6,1532.3 L1029.6,1534.1 L1033.6,1536.0 L1037.6,1537.8 L1041.6,1539.6 L1045.6,1541.3 L1049.6,1543.0 L1053.6,1544.7 L1057.6,1546.3 L1061.6,1547.9 L1065.6,1549.5 L1069.6,1551.1 L1073.6,1552.6 L1077.6,1554.1 L1081.6,1555.5 L1085.6,1557.0 L1089.6,1558.4 L1093.6,1559.8 L1097.5,1561.1 L1101.5,1562.4 L1105.5,1563.7 L1109.5,1565.0 L1113.5,1566.3 L1117.5,1567.5 L1121.5,1568.7 L1125.5,1569.9 L1129.5,1571.1 L1133.5,1572.3" fill="none" stroke="#000" stroke-width="3" stroke-linecap="round"/>
<path d="M128.3,908.8 V1625.9 H1185" fill="none" stroke="#2b2b2b" stroke-width="2"/>
<line x1="123.3" y1="925.6" x2="128.3" y2="925.6" stroke="#2b2b2b" stroke-width="2"/>
<line x1="123.3" y1="1110.0" x2="128.3" y2="1110.0" stroke="#2b2b2b" stroke-width="2"/>
<line x1="123.3" y1="1294.3" x2="128.3" y2="1294.3" stroke="#2b2b2b" stroke-width="2"/>
<line x1="123.3" y1="1478.7" x2="128.3" y2="1478.7" stroke="#2b2b2b" stroke-width="2"/>
<line x1="176.3" y1="1625.9" x2="176.3" y2="1630.6" stroke="#2b2b2b" stroke-width="2"/>
<line x1="240.3" y1="1625.9" x2="240.3" y2="1630.6" stroke="#2b2b2b" stroke-width="2"/>
<line x1="304.3" y1="1625.9" x2="304.3" y2="1630.6" stroke="#2b2b2b" stroke-width="2"/>
<line x1="368.4" y1="1625.9" x2="368.4" y2="1630.6" stroke="#2b2b2b" stroke-width="2"/>
<line x1="432.4" y1="1625.9" x2="432.4" y2="1630.6" stroke="#2b2b2b" stroke-width="2"/>
<line x1="496.4" y1="1625.9" x2="496.4" y2="1630.6" stroke="#2b2b2b" stroke-width="2"/>
<line x1="560.4" y1="1625.9" x2="560.4" y2="1630.6" stroke="#2b2b2b" stroke-width="2"/>
<line x1="624.4" y1="1625.9" x2="624.4" y2="1630.6" stroke="#2b2b2b" stroke-width="2"/>
<line x1="688.5" y1="1625.9" x2="688.5" y2="1630.6" stroke="#2b2b2b" stroke-width="2"/>
<line x1="752.5" y1="1625.9" x2="752.5" y2="1630.6" stroke="#2b2b2b" stroke-width="2"/>
<line x1="816.5" y1="1625.9" x2="816.5" y2="1630.6" stroke="#2b2b2b" stroke-width="2"/>
<line x1="880.5" y1="1625.9" x2="880.5" y2="1630.6" stroke="#2b2b2b" stroke-width="2"/>
<line x1="944.5" y1="1625.9" x2="944.5" y2="1630.6" stroke="#2b2b2b" stroke-width="2"/>
<line x1="1008.6" y1="1625.9" x2="1008.6" y2="1630.6" stroke="#2b2b2b" stroke-width="2"/>
<line x1="1072.6" y1="1625.9" x2="1072.6" y2="1630.6" stroke="#2b2b2b" stroke-width="2"/>
<line x1="1136.6" y1="1625.9" x2="1136.6" y2="1630.6" stroke="#2b2b2b" stroke-width="2"/>
<text x="115" y="933.2" font-size="27" text-anchor="end">0.20</text>
<text x="115" y="1114.5" font-size="27" text-anchor="end">0.15</text>
<text x="115" y="1300.2" font-size="27" text-anchor="end">0.10</text>
<text x="115" y="1484.5" font-size="27" text-anchor="end">0.05</text>
<text x="178.4" y="1661.1" font-size="27" text-anchor="middle">10</text>
<text x="241.4" y="1661.1" font-size="27" text-anchor="middle">12</text>
<text x="304.1" y="1661.1" font-size="27" text-anchor="middle">14</text>
<text x="367.4" y="1661.1" font-size="27" text-anchor="middle">16</text>
<text x="433.2" y="1661.1" font-size="27" text-anchor="middle">18</text>
<text x="496.1" y="1661.1" font-size="27" text-anchor="middle">20</text>
<text x="560.1" y="1661.1" font-size="27" text-anchor="middle">22</text>
<text x="624.3" y="1661.1" font-size="27" text-anchor="middle">24</text>
<text x="687.8" y="1661.1" font-size="27" text-anchor="middle">26</text>
<text x="752.1" y="1661.1" font-size="27" text-anchor="middle">28</text>
<text x="815.6" y="1661.1" font-size="27" text-anchor="middle">30</text>
<text x="879.6" y="1661.1" font-size="27" text-anchor="middle">32</text>
<text x="943.5" y="1661.1" font-size="27" text-anchor="middle">34</text>
<text x="1007.2" y="1661.1" font-size="27" text-anchor="middle">36</text>
<text x="1071.7" y="1661.1" font-size="27" text-anchor="middle">38</text>
<text x="1135.3" y="1661.1" font-size="27" text-anchor="middle">40</text>
<text x="553.2" y="1707.2" font-size="27">Temperature</text>
<text x="698.5" y="1707.2" font-size="27">(°C)</text>
<text transform="translate(30.6,1463.4) rotate(-90)" font-size="27">Respiration</text>
<text transform="translate(30.6,1329.2) rotate(-90)" font-size="27">rate</text>
<text transform="translate(30.6,1282.5) rotate(-90)" font-size="27">(RR,</text>
<text transform="translate(30.6,1220.5) rotate(-90)" font-size="27">mgO</text>
<text transform="translate(35.4,1167.2) rotate(-90)" font-size="17">2</text>
<text transform="translate(30.6,1150.0) rotate(-90)" font-size="27">h</text>
<text transform="translate(22.8,1135.7) rotate(-90)" font-size="17">-1</text>
<text transform="translate(30.6,1113.9) rotate(-90)" font-size="27">gWW</text>
<text transform="translate(22.8,1052.0) rotate(-90)" font-size="17">-1</text>
<text transform="translate(30.6,1038.0) rotate(-90)" font-size="27">)</text>
<rect x="1169.5" y="1088.6" width="20.5" height="101.4" fill="#199d48"/>
<rect x="1169.5" y="1190" width="20.5" height="102.4" fill="#a4cd6b"/>
<rect x="1169.5" y="1292.4" width="20.5" height="102.8" fill="#f7ec7a"/>
<rect x="1169.5" y="1395.2" width="20.5" height="102.8" fill="#f7ad5f"/>
<rect x="1169.5" y="1498" width="20.5" height="101.8" fill="#dc2343"/>
<rect x="1169.4" y="1088.6" width="20.6" height="511.2" fill="none" stroke="#000" stroke-width="3.6" transform="scale(1,1)"/>
<line x1="1190" y1="1088.1" x2="1207.5" y2="1088.1" stroke="#000" stroke-width="3.6"/>
<text x="1215.2" y="1088.2" font-size="27">1.0</text>
<line x1="1190" y1="1190" x2="1207.5" y2="1190" stroke="#000" stroke-width="3.6"/>
<text x="1215.2" y="1192.5" font-size="27">0.8</text>
<line x1="1190" y1="1293.2" x2="1207.5" y2="1293.2" stroke="#000" stroke-width="3.6"/>
<text x="1215.2" y="1293.3" font-size="27">0.6</text>
<line x1="1190" y1="1395" x2="1207.5" y2="1395" stroke="#000" stroke-width="3.6"/>
<text x="1215.2" y="1392.8" font-size="27">0.4</text>
<line x1="1190" y1="1498.1" x2="1207.5" y2="1498.1" stroke="#000" stroke-width="3.6"/>
<text x="1215.2" y="1499.2" font-size="27">0.2</text>
<line x1="1190" y1="1599.8" x2="1207.5" y2="1599.8" stroke="#000" stroke-width="3.6"/>
<text x="1215.2" y="1599.7" font-size="27">0.0</text>
</svg></body></html>
